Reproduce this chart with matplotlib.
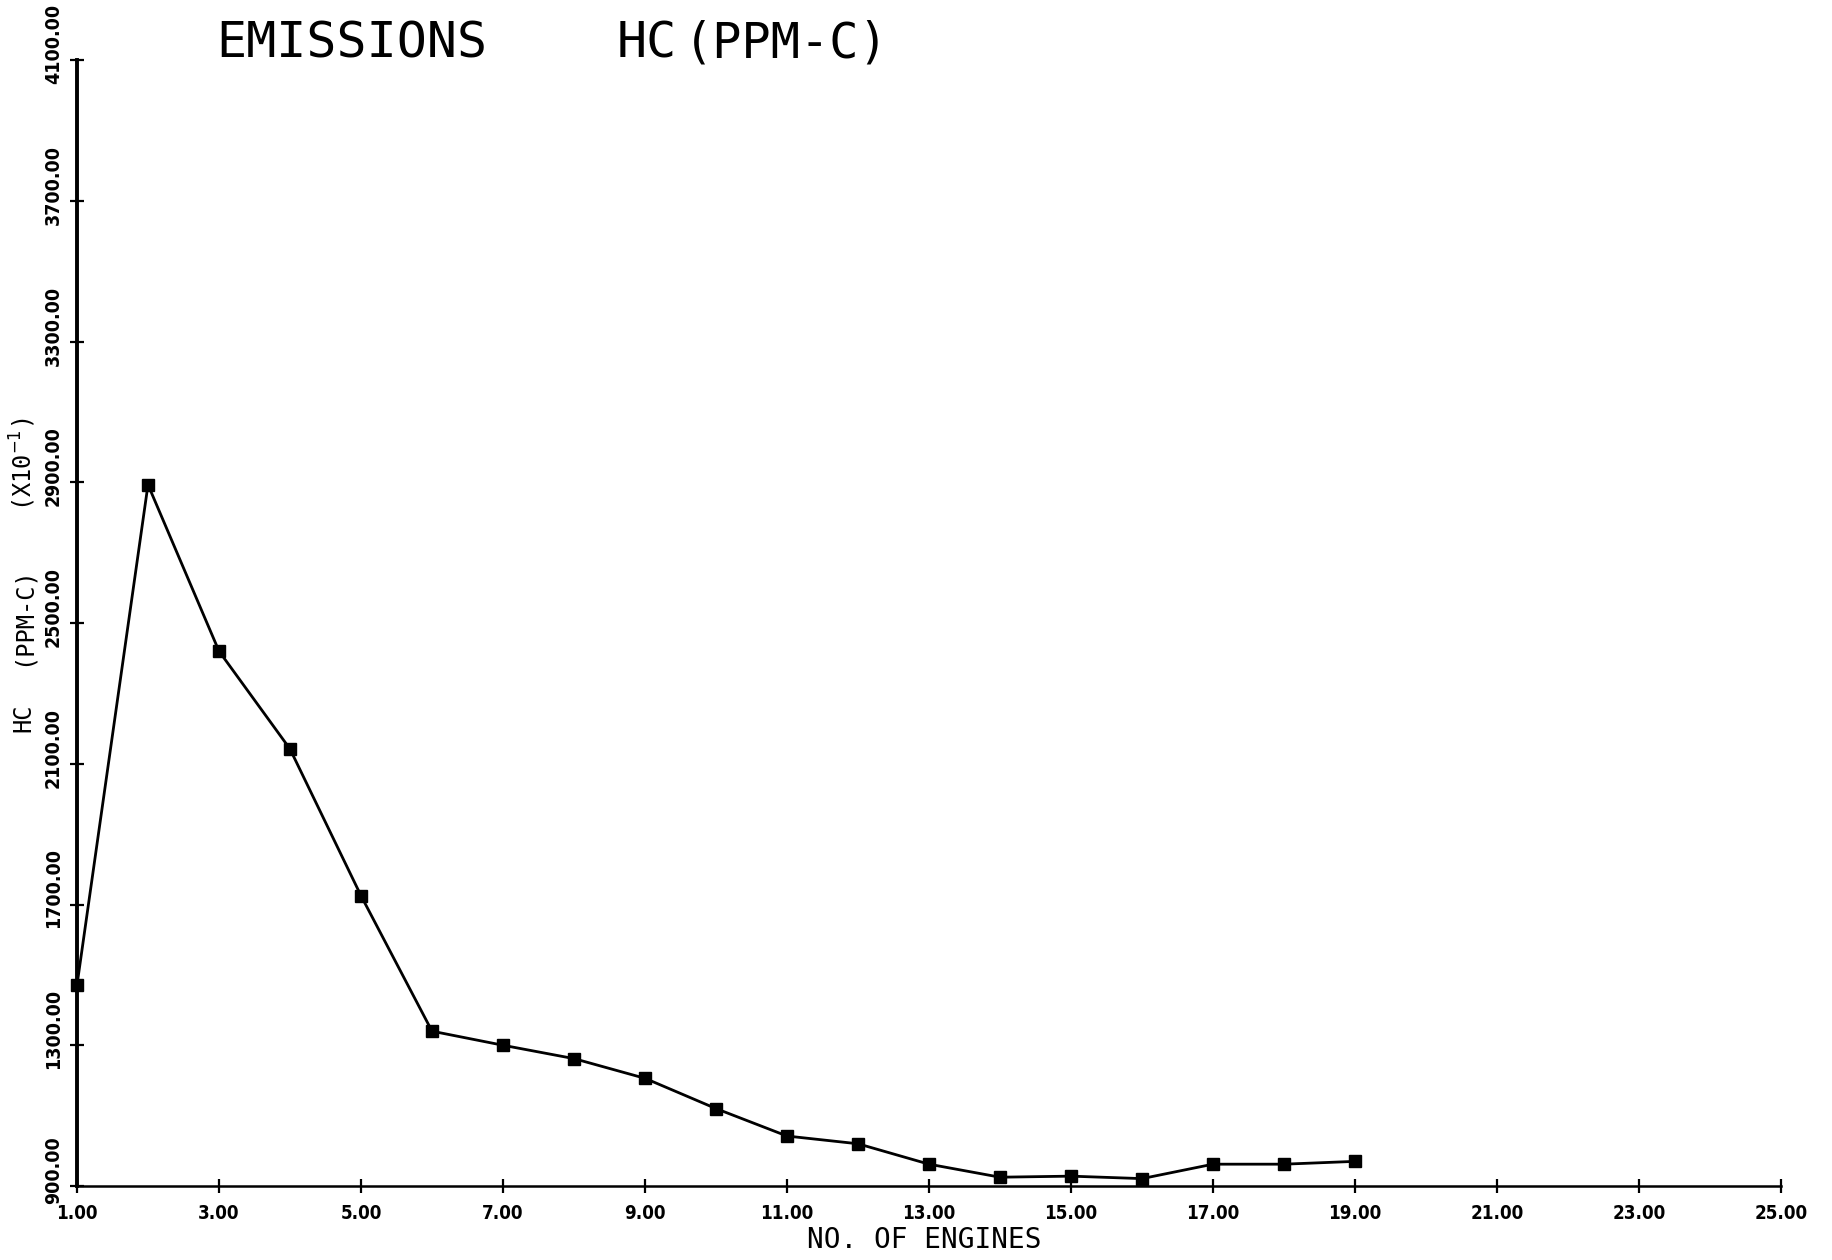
import matplotlib
matplotlib.use('Agg')
import matplotlib.pyplot as plt
import matplotlib.transforms as mtransforms

# ---- data ----
engines = [1, 2, 3, 4, 5, 6, 7, 8, 9, 10, 11, 12, 13, 14, 15, 16, 17, 18, 19]
hc_ppm = [1471, 2893, 2420, 2142, 1725, 1340, 1300, 1262, 1206, 1120,
          1042, 1020, 962, 925, 928, 921, 962, 962, 970]
x_ticks = [1, 3, 5, 7, 9, 11, 13, 15, 17, 19, 21, 23, 25]
y_ticks = [900, 1300, 1700, 2100, 2500, 2900, 3300, 3700, 4100]
x_tick_labels = [f"{v:.2f}" for v in x_ticks]
y_tick_labels = [f"{v:.2f}" for v in y_ticks]

W, H = 1832, 1260
fig = plt.figure(figsize=(W / 100, H / 100), dpi=100)
fig.patch.set_facecolor('white')

left, right, bottom, top = 77, 1781, 1186, 60
ax = fig.add_axes([left / W, 1 - bottom / H, (right - left) / W, (bottom - top) / H])

ax.plot(engines, hc_ppm, color='black', lw=2.0, marker='s', ms=9,
        markerfacecolor='black', markeredgecolor='black', clip_on=False, zorder=3)

ax.set_xlim(1, 25)
ax.set_ylim(900, 4100)
for s in ['top', 'right']:
    ax.spines[s].set_visible(False)
ax.spines['left'].set_linewidth(2.8)
ax.spines['bottom'].set_linewidth(1.8)

tick_font = dict(family=['DejaVu Sans'], weight='bold', stretch='condensed')

ax.set_xticks(x_ticks)
ax.set_xticklabels(x_tick_labels, fontsize=13.5, **tick_font)
ax.set_yticks(y_ticks)
ax.set_yticklabels(y_tick_labels, fontsize=14, rotation=90, va='center', **tick_font)
ax.tick_params(axis='both', direction='inout', length=10, width=1.6)
ax.tick_params(axis='x', pad=8)
ax.tick_params(axis='y', pad=5)

offset = mtransforms.ScaledTranslation(0, 16 / 100, fig.dpi_scale_trans)
for lab in ax.get_yticklabels():
    lab.set_transform(lab.get_transform() + offset)

mono = ['DejaVu Sans Mono']
# title
fig.text(216 / W, 1 - 44 / H, 'EMISSIONS', fontsize=36, family=mono, ha='left', va='center')
fig.text(617 / W, 1 - 44 / H, 'HC', fontsize=36, family=mono, ha='left', va='center')
fig.text(684 / W, 1 - 44 / H, '(PPM-C)', fontsize=35, family=mono, ha='left', va='center')

# x label
fig.text(924 / W, 1 - 1240 / H, 'NO. OF ENGINES', fontsize=20, family=mono, ha='center', va='center')

# y label pieces
fig.text(23 / W, 1 - 718 / H, 'HC', fontsize=17, family=mono, rotation=90, ha='center', va='center')
fig.text(23 / W, 1 - 616 / H, '(PPM-C)', fontsize=17, family=mono, rotation=90, ha='center', va='center')
fig.text(23 / W, 1 - 464 / H, '(X10$^{-1}$)', fontsize=17, family=mono, rotation=90, ha='center', va='center')

fig.savefig('out.png', dpi=100, facecolor='white')
